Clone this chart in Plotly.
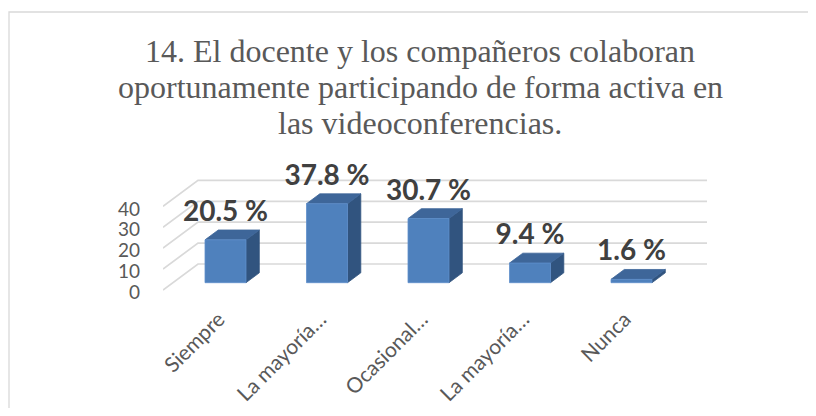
import plotly.graph_objects as go

# ---------------- data ----------------
categories = ["Siempre", "La mayoría…", "Ocasional…", "La mayoría…", "Nunca"]
values = [20.5, 37.8, 30.7, 9.4, 1.6]
value_labels = ["20.5 %", "37.8 %", "30.7 %", "9.4 %", "1.6 %"]
y_ticks = [0, 10, 20, 30, 40]
title_lines = [
    "14. El docente y los compañeros colaboran",
    "oportunamente participando de forma activa en",
    "las videoconferencias.",
]

# ---------------- geometry (page pixels) ----------------
OFF = 8                               # default body margin of the html page
W, H = 816 - 2 * OFF, 416 - 2 * OFF   # figure size (fits the window, no scrollbars)
L, R, T, B = 163, 707, 140, 300       # plot area (page px, invisible bounds)
GRID_RIGHT = 707                      # right end of back wall gridlines
CAT_PX = 101.5                        # px between categories
C0_PX = 225.5                         # px of first bar centre
BASE_PX = 282.7                       # px of bar front base
K = 2.09                              # px per value unit
DEPTH = (35.0, 26.0)                  # floor depth vector (right, up) in px
D_FRONT, D_BACK = 0.28, 0.66          # bar depth span (fraction of floor depth)
BAR_W = 41 / CAT_PX                   # bar width in category units
FLOOR_LEFT = 163                      # px of front-left corner of the floor

x_range = [(L - C0_PX) / CAT_PX, (R - C0_PX) / CAT_PX]
y_range = [-(B - BASE_PX) / K, (BASE_PX - T) / K]


def proj(c, v, d):
    """3D (category, value, depth) -> 2D data coordinates."""
    return (c + (d - D_FRONT) * DEPTH[0] / CAT_PX,
            v + (d - D_FRONT) * DEPTH[1] / K)


def data_x(p):
    return (p - C0_PX) / CAT_PX


def px_x(p):
    return (p - L) / (R - L)


def px_y(p):
    return (B - p) / (B - T)


FRONT = "#4f81bd"
SIDE = "#31547f"
TOP = "#3e6699"
GRID = "#d9d9d9"
TXT = "#595959"
LBL = "#404040"

fig = go.Figure()

# walls / gridlines
shift0 = proj(0, 0, 0)[0]
cL0 = data_x(FLOOR_LEFT) - shift0
gx, gy = [], []
for t in y_ticks:
    p0 = proj(cL0, t, 0.0)
    p1 = proj(cL0, t, 1.0)
    gx += [p0[0], p1[0], data_x(GRID_RIGHT), None]
    gy += [p0[1], p1[1], p1[1], None]
fig.add_trace(go.Scatter(x=gx, y=gy, mode="lines", line=dict(color=GRID, width=1.7),
                         hoverinfo="skip", showlegend=False))

# 3D bars
for i, v in enumerate(values):
    c = i
    a, b = c - BAR_W / 2, c + BAR_W / 2
    front = [proj(a, 0, D_FRONT), proj(b, 0, D_FRONT), proj(b, v, D_FRONT), proj(a, v, D_FRONT)]
    side = [proj(b, 0, D_FRONT), proj(b, 0, D_BACK), proj(b, v, D_BACK), proj(b, v, D_FRONT)]
    top = [proj(a, v, D_FRONT), proj(b, v, D_FRONT), proj(b, v, D_BACK), proj(a, v, D_BACK)]
    for poly, col, lc in ((side, SIDE, SIDE), (top, TOP, TOP), (front, FRONT, "#5f8fcc")):
        fig.add_trace(go.Scatter(
            x=[p[0] for p in poly] + [poly[0][0]],
            y=[p[1] for p in poly] + [poly[0][1]],
            mode="lines", fill="toself", fillcolor=col,
            line=dict(color=lc, width=0.8),
            hoverinfo="skip", showlegend=False))

# data labels
fig.add_trace(go.Scatter(
    x=list(range(len(values))), y=[v + 26 / K for v in values],
    mode="text", text=value_labels, textposition="middle center",
    textfont=dict(family="Lato", size=28, color=LBL, weight="bold"),
    cliponaxis=False, hoverinfo="skip", showlegend=False))

# title lines
title_centres = [51, 87, 123]
annotations = []
for line, yc in zip(title_lines, title_centres):
    annotations.append(dict(
        text=line, xref="paper", yref="paper", x=px_x(420), y=px_y(yc),
        xanchor="center", yanchor="middle", showarrow=False,
        font=dict(family="Liberation Serif", size=32, color=TXT)))

# chart-area border: only left and top edges are visible in the picture
bx0, by_top = px_x(9), px_y(12)
bx1, by_bot = px_x(W + 60), px_y(H + 60)
border_path = f"M {bx0},{by_bot} L {bx0},{by_top} L {bx1},{by_top}"

fig.update_layout(
    width=W, height=H,
    margin=dict(l=L - OFF, r=W - (R - OFF), t=T - OFF, b=H - (B - OFF), pad=0,
                autoexpand=False),
    paper_bgcolor="white", plot_bgcolor="rgba(0,0,0,0)",
    annotations=annotations,
    shapes=[dict(type="path", xref="paper", yref="paper", path=border_path,
                 line=dict(color=GRID, width=1.3), layer="below")],
    xaxis=dict(range=x_range, showgrid=False, zeroline=False, showline=False,
               automargin=False, tickmode="array",
               tickvals=[i + shift0 + 3 / CAT_PX for i in range(len(categories))],
               ticktext=categories, tickangle=-45, ticks="",
               tickfont=dict(family="Lato", size=21, color=TXT),
               ticklabelstandoff=2, fixedrange=True),
    yaxis=dict(range=y_range, showgrid=False, zeroline=False, showline=False,
               automargin=False, tickmode="array",
               tickvals=[proj(0, t, 0)[1] - 2.5 / K for t in y_ticks],
               ticktext=[str(t) for t in y_ticks], ticks="",
               tickfont=dict(family="Lato", size=19, color=TXT),
               ticklabelstandoff=22, fixedrange=True),
    showlegend=False,
)

fig.write_html("out.html", config={"displayModeBar": False})
